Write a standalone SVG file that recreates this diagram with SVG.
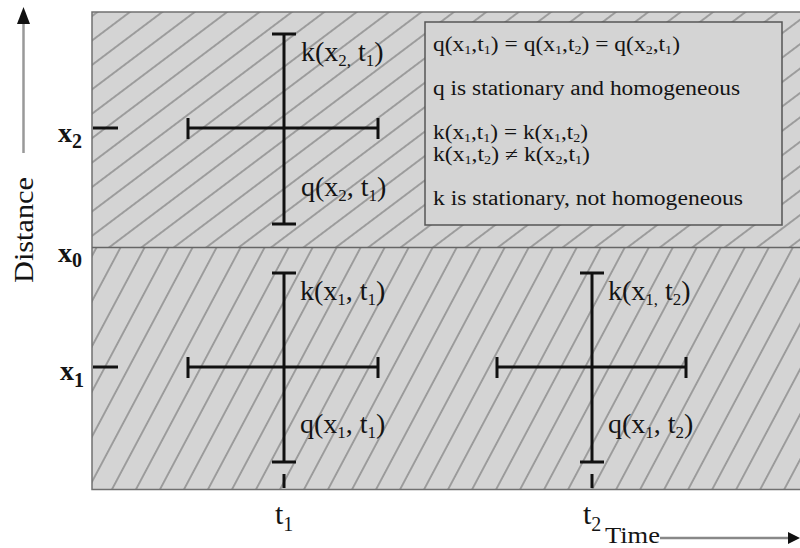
<svg xmlns="http://www.w3.org/2000/svg" width="800" height="548" viewBox="0 0 800 548">
<style>
.t{font-family:"Liberation Serif","Times New Roman",serif;fill:#141414}
.lbl{font-size:28px}
.sub{font-size:17px}
.leg{font-size:20px}
.lsub{font-size:12px}
.ax{font-size:28px;font-weight:bold}
.axs{font-size:20px;font-weight:bold}
.bar{stroke:#111;stroke-width:3;fill:none}
.hatch{stroke:#666;stroke-width:1}
</style>
<defs>
<pattern id="hU" patternUnits="userSpaceOnUse" width="10" height="19.5" patternTransform="rotate(-37)">
<line class="hatch" x1="-1" y1="9.75" x2="11" y2="9.75"/>
</pattern>
<pattern id="hL" patternUnits="userSpaceOnUse" width="10" height="21.2" patternTransform="rotate(-62)">
<line class="hatch" x1="-1" y1="10.6" x2="11" y2="10.6"/>
</pattern>
</defs>

<g id="regions">
<rect x="92" y="12" width="710" height="235.5" fill="#d4d4d4"/>
<rect x="92" y="12" width="710" height="235.5" fill="url(#hU)"/>
<rect x="92" y="247.5" width="710" height="242" fill="#d4d4d4"/>
<rect x="92" y="247.5" width="710" height="242" fill="url(#hL)"/>
<path d="M802 12 H92 V489.5 H802" fill="none" stroke="#707070" stroke-width="1.5"/>
<line x1="92" y1="247.5" x2="800" y2="247.5" stroke="#666" stroke-width="1.5"/>
</g>

<g id="axes">
<line x1="23.5" y1="153" x2="23.5" y2="20" stroke="#999" stroke-width="2.5"/>
<polygon points="23.5,7 17,24 30,24" fill="#111"/>
<text class="t" transform="translate(33,230) rotate(-90)" text-anchor="middle" font-size="28" textLength="106" lengthAdjust="spacingAndGlyphs">Distance</text>
<line x1="660" y1="538" x2="790" y2="538" stroke="#888" stroke-width="2.5"/>
<polygon points="800,538 788,532 788,544" fill="#111"/>
<text class="t" x="605" y="543" font-size="23" textLength="55" lengthAdjust="spacingAndGlyphs">Time</text>
<line class="bar" x1="93" y1="128" x2="118" y2="128"/>
<line class="bar" x1="93" y1="367" x2="118" y2="367"/>
<line class="bar" x1="284" y1="474" x2="284" y2="488"/>
<line class="bar" x1="592" y1="474" x2="592" y2="488"/>
<text class="t ax" x="58" y="142">x<tspan class="axs" dy="6">2</tspan></text>
<text class="t ax" x="58" y="262">x<tspan class="axs" dy="5">0</tspan></text>
<text class="t ax" x="60" y="380">x<tspan class="axs" dy="7">1</tspan></text>
<text class="t" x="275" y="524" font-size="30">t<tspan font-size="20" dy="7">1</tspan></text>
<text class="t" x="583" y="524" font-size="30">t<tspan font-size="20" dy="7">2</tspan></text>
</g>

<g id="cross-x2-t1">
<line class="bar" x1="284" y1="34" x2="284" y2="224"/>
<line class="bar" x1="272" y1="34" x2="296" y2="34"/>
<line class="bar" x1="272" y1="224" x2="296" y2="224"/>
<line class="bar" x1="188" y1="128" x2="378" y2="128"/>
<line class="bar" x1="188" y1="118" x2="188" y2="139"/>
<line class="bar" x1="378" y1="118" x2="378" y2="139"/>
<text class="t lbl" x="301" y="61">k(x<tspan class="sub" dy="5">2,</tspan><tspan dy="-5"> t</tspan><tspan class="sub" dy="5">1</tspan><tspan dy="-5">)</tspan></text>
<text class="t lbl" x="301" y="196">q(x<tspan class="sub" dy="5">2</tspan><tspan dy="-5">, t</tspan><tspan class="sub" dy="5">1</tspan><tspan dy="-5">)</tspan></text>
</g>

<g id="cross-x1-t1">
<line class="bar" x1="284" y1="273" x2="284" y2="462"/>
<line class="bar" x1="272" y1="273" x2="296" y2="273"/>
<line class="bar" x1="272" y1="462" x2="296" y2="462"/>
<line class="bar" x1="188" y1="367" x2="378" y2="367"/>
<line class="bar" x1="188" y1="357" x2="188" y2="378"/>
<line class="bar" x1="378" y1="357" x2="378" y2="378"/>
<text class="t lbl" x="300" y="300">k(x<tspan class="sub" dy="5">1</tspan><tspan dy="-5">, t</tspan><tspan class="sub" dy="5">1</tspan><tspan dy="-5">)</tspan></text>
<text class="t lbl" x="300" y="433">q(x<tspan class="sub" dy="5">1</tspan><tspan dy="-5">, t</tspan><tspan class="sub" dy="5">1</tspan><tspan dy="-5">)</tspan></text>
</g>

<g id="cross-x1-t2">
<line class="bar" x1="592" y1="273" x2="592" y2="462"/>
<line class="bar" x1="580" y1="273" x2="604" y2="273"/>
<line class="bar" x1="580" y1="462" x2="604" y2="462"/>
<line class="bar" x1="497" y1="367" x2="686" y2="367"/>
<line class="bar" x1="497" y1="357" x2="497" y2="378"/>
<line class="bar" x1="686" y1="357" x2="686" y2="378"/>
<text class="t lbl" x="608" y="300">k(x<tspan class="sub" dy="5">1,</tspan><tspan dy="-5"> t</tspan><tspan class="sub" dy="5">2</tspan><tspan dy="-5">)</tspan></text>
<text class="t lbl" x="608" y="433">q(x<tspan class="sub" dy="5">1</tspan><tspan dy="-5">, t</tspan><tspan class="sub" dy="5">2</tspan><tspan dy="-5">)</tspan></text>
</g>

<g id="legend">
<rect x="425" y="22" width="357" height="203" fill="#d4d4d4" stroke="#555" stroke-width="1.5"/>
<text class="t leg" x="433" y="51" textLength="247" lengthAdjust="spacingAndGlyphs">q(x<tspan class="lsub" dy="3">1</tspan><tspan dy="-3">,t</tspan><tspan class="lsub" dy="3">1</tspan><tspan dy="-3">) = q(x</tspan><tspan class="lsub" dy="3">1</tspan><tspan dy="-3">,t</tspan><tspan class="lsub" dy="3">2</tspan><tspan dy="-3">) = q(x</tspan><tspan class="lsub" dy="3">2</tspan><tspan dy="-3">,t</tspan><tspan class="lsub" dy="3">1</tspan><tspan dy="-3">)</tspan></text>
<text class="t leg" x="433" y="95" textLength="307" lengthAdjust="spacingAndGlyphs">q is stationary and homogeneous</text>
<text class="t leg" x="433" y="139" textLength="155" lengthAdjust="spacingAndGlyphs">k(x<tspan class="lsub" dy="3">1</tspan><tspan dy="-3">,t</tspan><tspan class="lsub" dy="3">1</tspan><tspan dy="-3">) = k(x</tspan><tspan class="lsub" dy="3">1</tspan><tspan dy="-3">,t</tspan><tspan class="lsub" dy="3">2</tspan><tspan dy="-3">)</tspan></text>
<text class="t leg" x="433" y="161" textLength="157" lengthAdjust="spacingAndGlyphs">k(x<tspan class="lsub" dy="3">1</tspan><tspan dy="-3">,t</tspan><tspan class="lsub" dy="3">2</tspan><tspan dy="-3">) ≠ k(x</tspan><tspan class="lsub" dy="3">2</tspan><tspan dy="-3">,t</tspan><tspan class="lsub" dy="3">1</tspan><tspan dy="-3">)</tspan></text>
<text class="t leg" x="433" y="205" textLength="310" lengthAdjust="spacingAndGlyphs">k is stationary, not homogeneous</text>
</g>
</svg>
